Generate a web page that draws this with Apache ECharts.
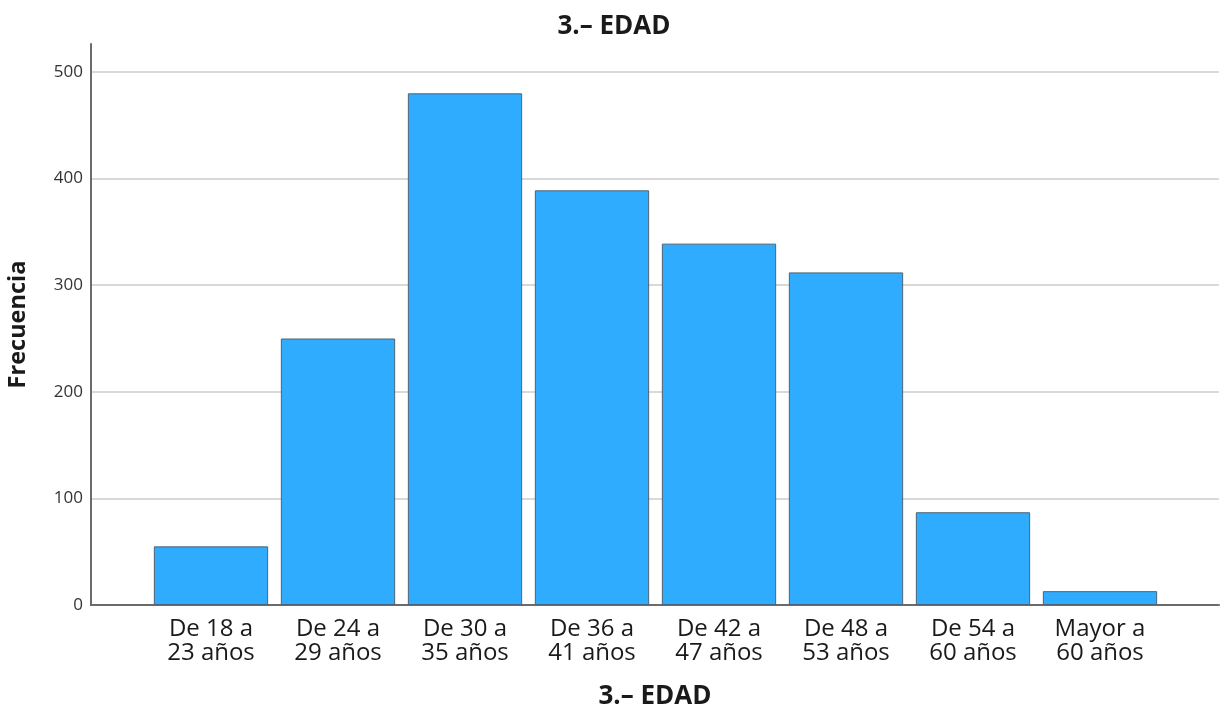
<!DOCTYPE html>
<html>
<head>
<meta charset="utf-8">
<script src="https://cdn.jsdelivr.net/npm/echarts@6/dist/echarts.min.js"></script>
<style>
html,body{margin:0;padding:0;background:#fff;}
#chart{width:1222px;height:711px;}
</style>
</head>
<body>
<div id="chart"></div>
<script>
const categories = ['De 18 a\n23 años','De 24 a\n29 años','De 30 a\n35 años','De 36 a\n41 años','De 42 a\n47 años','De 48 a\n53 años','De 54 a\n60 años','Mayor a\n60 años'];
const frecuencia = [55, 250, 480, 389, 339, 312, 87, 13];
const yTicks = [0, 100, 200, 300, 400, 500];
const chartTitle = '3.\u2013 EDAD';
const yName = 'Frecuencia';

const FONT = 'Open Sans';
const yMax = yTicks[yTicks.length - 1];
const yInterval = yTicks[1] - yTicks[0];
const plotTop = 72, plotBottomPx = 605;
const axisTop = 44;
const extMax = yMax * (plotBottomPx - axisTop) / (plotBottomPx - plotTop);

const chart = echarts.init(document.getElementById('chart'), null, {renderer: 'canvas'});
chart.setOption({
  backgroundColor: '#ffffff',
  animation: false,
  title: {
    text: chartTitle,
    left: 609, top: 9,
    textAlign: 'center',
    textStyle: {fontFamily: FONT, fontSize: 26, fontWeight: 'bold', color: '#1a1a1a'}
  },
  grid: [
    {left: 91, right: 3, top: axisTop, bottom: 711 - plotBottomPx, containLabel: false, outerBoundsMode: 'none'},
    {left: 91, right: 3, top: plotTop, bottom: 711 - plotBottomPx, containLabel: false, outerBoundsMode: 'none'},
    {left: 147.5, right: 58.5, top: plotTop, bottom: 711 - plotBottomPx, containLabel: false, outerBoundsMode: 'none'}
  ],
  xAxis: [
    {gridIndex: 0, type: 'value', min: 0, max: 1,
     axisLine: {show: true, onZero: false, lineStyle: {color: '#6b6b6b', width: 2}},
     axisTick: {show: false}, axisLabel: {show: false}, splitLine: {show: false},
     name: chartTitle, nameLocation: 'middle', nameGap: 79,
     nameTextStyle: {fontFamily: FONT, fontSize: 26, fontWeight: 'bold', color: '#1a1a1a'}},
    {gridIndex: 1, type: 'value', min: 0, max: 1, show: false},
    {gridIndex: 2, type: 'category', data: categories,
     axisLine: {show: false}, axisTick: {show: false},
     axisLabel: {fontFamily: FONT, fontSize: 24, color: '#1a1a1a', lineHeight: 24, margin: 12, interval: 0}}
  ],
  yAxis: [
    {gridIndex: 0, type: 'value', min: 0, max: extMax,
     axisLine: {show: true, lineStyle: {color: '#6b6b6b', width: 2}},
     axisTick: {show: false}, axisLabel: {show: false}, splitLine: {show: false},
     name: yName, nameLocation: 'middle', nameRotate: 90, nameGap: 61,
     nameTextStyle: {fontFamily: FONT, fontSize: 23.5, fontWeight: 'bold', color: '#1a1a1a'}},
    {gridIndex: 1, type: 'value', min: 0, max: yMax, interval: yInterval,
     axisLine: {show: false}, axisTick: {show: false},
     axisLabel: {fontFamily: FONT, fontSize: 17, color: '#333333', margin: 8},
     splitLine: {show: true, lineStyle: {color: '#cccccc', width: 1.5}}},
    {gridIndex: 2, type: 'value', min: 0, max: yMax, show: false}
  ],
  series: [{
    type: 'bar',
    xAxisIndex: 2, yAxisIndex: 2,
    data: frecuencia,
    barCategoryGap: '10%',
    itemStyle: {color: '#30acff', borderColor: '#4d6373', borderWidth: 1}
  }]
});
</script>
</body>
</html>
